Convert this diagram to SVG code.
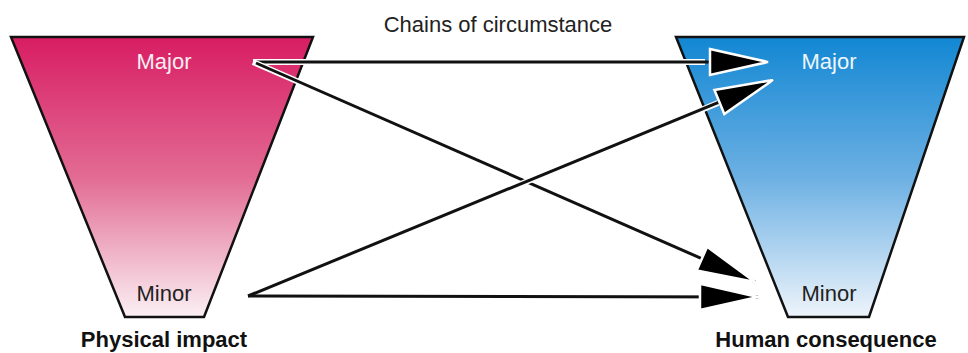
<svg xmlns="http://www.w3.org/2000/svg" width="968" height="353" viewBox="0 0 968 353">
<style>
text{font-family:"Liberation Sans",Arial,sans-serif}
.lbl{font-size:22px;text-anchor:middle}
.major{fill:#fbeef3}
.majorR{fill:#eef6fc}
.minor{fill:#222}
.title{font-size:22px;font-weight:bold;text-anchor:middle;fill:#111}
.trap{stroke:#111;stroke-width:2.5;stroke-linejoin:miter}
.halo{stroke:#fff;stroke-width:6;fill:none}
.line{stroke:#111;stroke-width:3;fill:none}
</style>
<defs>
<linearGradient id="gPink" x1="0" y1="0" x2="0" y2="1">
<stop offset="0" stop-color="#d81d63"/>
<stop offset="0.5" stop-color="#e26b93"/>
<stop offset="1" stop-color="#fbf0f4"/>
</linearGradient>
<linearGradient id="gBlue" x1="0" y1="0" x2="0" y2="1">
<stop offset="0" stop-color="#1287d3"/>
<stop offset="0.5" stop-color="#6cb0e3"/>
<stop offset="1" stop-color="#eef4fb"/>
</linearGradient>
<marker id="arr" markerUnits="userSpaceOnUse" viewBox="-3 -16 66 32" markerWidth="66" markerHeight="32" refX="58" refY="0" orient="auto">
<path d="M0,-13 L58,0 L0,13 Z" fill="#000" stroke="#fff" stroke-width="2.5" stroke-linejoin="miter"/>
</marker>
</defs>
<g id="physical">
<path class="trap" d="M11,37 L313,37 L204,317 L125,317 Z" fill="url(#gPink)"/>
<text class="lbl major" x="164" y="69">Major</text>
<text class="lbl minor" x="164" y="301">Minor</text>
<text class="title" x="164" y="347">Physical impact</text>
</g>
<g id="human">
<path class="trap" d="M676,37 L964,37 L869,317 L788,317 Z" fill="url(#gBlue)"/>
<text class="lbl majorR" x="829" y="69">Major</text>
<text class="lbl minor" x="829" y="301">Minor</text>
<text class="title" x="826" y="347">Human consequence</text>
</g>
<g id="label">
<text class="lbl" x="498" y="32" fill="#222">Chains of circumstance</text>
</g>
<g id="connectors">
<line class="halo" x1="253" y1="62" x2="705" y2="62"/>
<line class="line" x1="256" y1="62" x2="768" y2="62" marker-end="url(#arr)"/>
<line class="halo" x1="253" y1="62" x2="700" y2="256"/>
<line class="line" x1="256" y1="63" x2="755" y2="282" marker-end="url(#arr)"/>
<line class="halo" x1="248" y1="296" x2="718" y2="103"/>
<line class="line" x1="248" y1="296" x2="773" y2="80" marker-end="url(#arr)"/>
<line class="line" x1="248" y1="296" x2="758" y2="297" marker-end="url(#arr)"/>
</g>
</svg>
